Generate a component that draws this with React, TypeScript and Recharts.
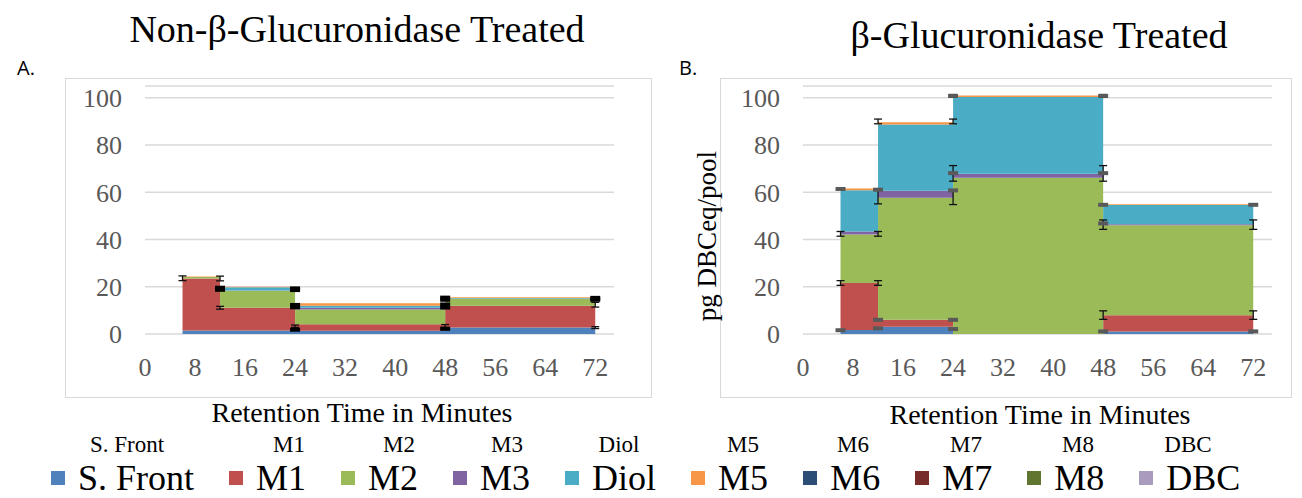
import React from "react"
import { ComposedChart, Area, Scatter, ErrorBar, XAxis, YAxis, CartesianGrid } from "recharts"

const SERIES = ["S. Front", "M1", "M2", "M3", "Diol", "M5", "M6", "M7", "M8", "DBC"]
const KEYS = ["sFront", "m1", "m2", "m3", "diol", "m5", "m6", "m7", "m8", "dbc"]
const COLORS = ["#4F81BD", "#C0504D", "#9BBB59", "#8064A2", "#4BACC6", "#F79646", "#2C4D75", "#772C2A", "#5F7530", "#A99BBD"]

// pool edges in minutes; each pool spans edge[i]..edge[i+1]
const EDGES = [6, 12, 24, 48, 72]
const X_TICKS = [0, 8, 16, 24, 32, 40, 48, 56, 64, 72]
const Y_TICKS = [0, 20, 40, 60, 80, 100]

// Non-treated, one value per pool (6-12, 12-24, 24-48, 48-72)
const NON_SFRONT = [1.5, 1.5, 1.4, 2.7]
const NON_M1 = [22.0, 9.6, 2.7, 9.3]
const NON_M2 = [0.6, 7.2, 6.3, 2.9]
const NON_M3 = [0, 0.1, 0.7, 0.1]
const NON_DIOL = [0, 1.4, 0.9, 0.2]
const NON_M5 = [0.2, 0.2, 1.0, 0.4]
const NON_M6 = [0, 0, 0, 0]
const NON_M7 = [0, 0, 0, 0]
const NON_M8 = [0, 0, 0, 0]
const NON_DBC = [0, 0, 0, 0]

// Treated
const TRT_SFRONT = [1.7, 3.1, 0, 1.1]
const TRT_M1 = [19.9, 2.9, 0, 6.8]
const TRT_M2 = [20.5, 51.7, 66.2, 38.1]
const TRT_M3 = [1.3, 2.9, 1.6, 0.5]
const TRT_DIOL = [17.5, 28.1, 32.5, 8.1]
const TRT_M5 = [0.7, 0.9, 0.7, 0.3]
const TRT_M6 = [0, 0, 0, 0]
const TRT_M7 = [0, 0, 0, 0]
const TRT_M8 = [0, 0, 0, 0]
const TRT_DBC = [0, 0, 0, 0]

// error bars: [minutes, stacked value, error (or [minus, plus])]
const NON_ERR: [number, number, number | number[]][] = [
  [6, 23.6, 1], [6, 1.8, 0], [12, 23.5, 1], [12, 11.1, 0.6], [12, 1.8, 0],
  [24, 3.3, 0.5], [48, 3.4, 0.6], [72, 12.4, 1], [72, 2.7, 0.4],
]
const NON_MARKS: [number, number][] = [
  [12, 19.6], [12, 18.7], [24, 19.3], [24, 18.6], [24, 12.3], [24, 11.3], [24, 1.8],
  [48, 15.4], [48, 14.5], [48, 12.5], [48, 11.2], [48, 2.2], [72, 15.3], [72, 14.5],
]
const TRT_ERR: [number, number, number | number[]][] = [
  [6, 42.4, 1], [6, 21.6, 1], [12, 90, 1], [12, 42.4, 1], [12, 21.6, 1], [12, 61.1, [6, 0]],
  [24, 90, 1], [24, 68, 3.3], [24, 60.8, [6, 0]], [48, 68, 3.3], [48, 46.3, 2],
  [48, 8, 1.8], [72, 46.3, 2], [72, 8, 1.8], [24, 100.8, 0.6], [48, 100.8, 0.6],
]
const TRT_MARKS: [number, number][] = [
  [6, 61.4], [6, 1.6], [12, 61.1], [12, 6.0], [12, 2.4], [24, 100.8], [24, 68.1],
  [24, 60.8], [24, 6.0], [24, 2.1], [48, 100.8], [48, 68.1], [48, 54.7], [48, 46.8],
  [48, 1.1], [72, 54.7], [72, 1.1],
]

const buildRows = (cols: number[][]) =>
  EDGES.map((x, i) => {
    const row: any = { x }
    KEYS.forEach((k, j) => {
      row[k] = cols[j][Math.min(i, cols[j].length - 1)]
    })
    return row
  })

const nonRows = buildRows([NON_SFRONT, NON_M1, NON_M2, NON_M3, NON_DIOL, NON_M5, NON_M6, NON_M7, NON_M8, NON_DBC])
const trtRows = buildRows([TRT_SFRONT, TRT_M1, TRT_M2, TRT_M3, TRT_DIOL, TRT_M5, TRT_M6, TRT_M7, TRT_M8, TRT_DBC])

const serif = "'Liberation Serif', 'Times New Roman', serif"
const tickStyle = { fill: "#595959", fontSize: 26, fontFamily: serif }

function Panel({ rows, errs, marks, markColor }: any) {
  const errData = errs.map(([x, y, e]: any) => ({ x, y, e }))
  const markData = marks.map(([x, y]: any) => ({ x, y }))
  return (
    <ComposedChart width={630} height={430} data={rows} margin={{ top: 86, right: 16, bottom: 0, left: 85 }}>
      <CartesianGrid vertical={false} stroke="#d9d9d9" strokeWidth={1.5} />
      <XAxis
        type="number"
        dataKey="x"
        domain={[0, 75]}
        ticks={X_TICKS}
        interval={0}
        allowDataOverflow
        axisLine={false}
        tickLine={false}
        tickSize={0}
        tickMargin={24}
        height={96}
        tick={tickStyle}
      />
      <YAxis
        type="number"
        domain={[0, 105]}
        ticks={Y_TICKS}
        interval={0}
        allowDataOverflow
        axisLine={false}
        tickLine={false}
        tickSize={0}
        tickMargin={23}
        width={60}
        tick={tickStyle}
      />
      {KEYS.map((k, i) => (
        <Area
          key={k}
          type="stepAfter"
          dataKey={k}
          name={SERIES[i]}
          stackId="s"
          fill={COLORS[i]}
          fillOpacity={1}
          stroke="none"
          isAnimationActive={false}
        />
      ))}
      <Scatter
        data={errData}
        dataKey="y"
        isAnimationActive={false}
        shape={() => <g />}
      >
        <ErrorBar dataKey="e" direction="y" width={4} stroke="#111" strokeWidth={1.3} isAnimationActive={false} />
      </Scatter>
      <Scatter
        data={markData}
        dataKey="y"
        isAnimationActive={false}
        shape={(p: any) => <rect x={p.cx - 5} y={p.cy - 2} width={10} height={4} fill={markColor} />}
      />
    </ComposedChart>
  )
}

function Txt({ x, baseline, size, children, family = serif, color = "#000", anchor = "middle" }: any) {
  return (
    <div
      style={{
        position: "absolute",
        left: x,
        top: baseline - 0.8375 * size,
        fontSize: size,
        lineHeight: 1,
        fontFamily: family,
        color,
        whiteSpace: "nowrap",
        transform: anchor === "middle" ? "translateX(-50%)" : undefined,
      }}
    >
      {children}
    </div>
  )
}

const ROW1_CENTERS = [127, 289, 399, 507, 619, 743, 853, 966, 1078, 1188]

export default function App() {
  return (
    <div style={{ position: "absolute", left: 0, top: 0, width: 1302, height: 498, overflow: "hidden", background: "#fff" }}>
      <div style={{ position: "absolute", left: 65, top: 78, width: 587, height: 320, border: "1px solid #d9d9d9", boxSizing: "border-box" }} />
      <div style={{ position: "absolute", left: 720, top: 78, width: 572, height: 320, border: "1px solid #d9d9d9", boxSizing: "border-box" }} />

      <div style={{ position: "absolute", left: 0, top: 0 }}>
        <Panel rows={nonRows} errs={NON_ERR} marks={NON_MARKS} markColor="#000" />
      </div>
      <div style={{ position: "absolute", left: 658, top: 0 }}>
        <Panel rows={trtRows} errs={TRT_ERR} marks={TRT_MARKS} markColor="#595959" />
      </div>

      <Txt x={357} baseline={42} size={38}>Non-β-Glucuronidase Treated</Txt>
      <Txt x={1039} baseline={48} size={38}>β-Glucuronidase Treated</Txt>
      <Txt x={17} baseline={75} size={20} family="'Open Sans', sans-serif" anchor="start">A.</Txt>
      <Txt x={679} baseline={75} size={20} family="'Open Sans', sans-serif" anchor="start">B.</Txt>

      <Txt x={362} baseline={422} size={28}>Retention Time in Minutes</Txt>
      <Txt x={1040} baseline={424} size={28}>Retention Time in Minutes</Txt>

      <div
        style={{
          position: "absolute",
          left: 707,
          top: 236,
          transform: "translate(-50%, -50%) rotate(-90deg)",
          fontFamily: serif,
          fontSize: 27,
          lineHeight: 1,
          whiteSpace: "nowrap",
          color: "#000",
        }}
      >
        pg DBCeq/pool
      </div>

      {SERIES.map((s, i) => (
        <Txt key={s} x={ROW1_CENTERS[i]} baseline={452} size={23}>{s}</Txt>
      ))}

      <div style={{ position: "absolute", left: 51, top: 462, display: "flex", alignItems: "center", gap: 35 }}>
        {SERIES.map((s, i) => (
          <div key={s} style={{ display: "flex", alignItems: "center" }}>
            <div style={{ width: 14, height: 14, background: COLORS[i], marginRight: 13 }} />
            <span style={{ fontFamily: serif, fontSize: 36, lineHeight: "32px", color: "#000" }}>{s}</span>
          </div>
        ))}
      </div>
    </div>
  )
}
